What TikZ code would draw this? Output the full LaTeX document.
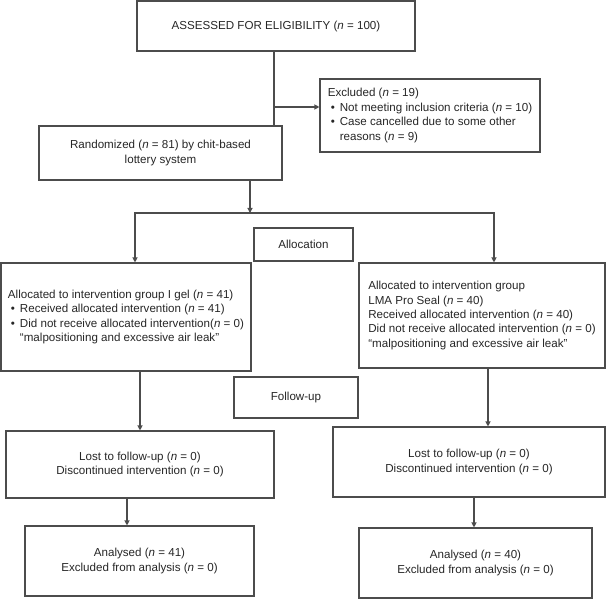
\documentclass[tikz,border=0pt]{standalone}
\usepackage{fontspec}
\setmainfont{Liberation Sans}
\usepackage{tikz}
\usetikzlibrary{arrows.meta,positioning}
\newcommand{\nn}{\textit{n}}
\newcommand{\itm}{\hspace*{3pt}\makebox[9pt][l]{\textbullet}}
\newcommand{\ind}{\hspace*{12pt}}

\begin{document}
\begin{tikzpicture}[
    x=1pt,y=-1pt,->,>={Triangle[length=5pt,width=5pt]},
    color=black!70,line width=1.1pt,
    block/.style={draw,rectangle,inner ysep=2pt,text=black!85,
      font=\fontsize{11.6}{14.4}\selectfont},
    ctr/.style={block,align=center},
    lft/.style={block,align=left}
  ]
  \useasboundingbox (0,0) rectangle (606,599);
  \node[ctr,minimum width=278,minimum height=50] (assess) at (276,26)
    {ASSESSED FOR ELIGIBILITY (\nn{} = 100)};
  \node[lft,minimum width=220,minimum height=73,inner xsep=4pt] (excl) at (430,115.5)
    {Excluded (\nn{} = 19)\\
     \itm Not meeting inclusion criteria (\nn{} = 10)\\
     \itm Case cancelled due to some other\\
     \ind reasons (\nn{} = 9)};
  \node[ctr,minimum width=243,minimum height=54] (rand) at (160.5,153)
    {Randomized (\nn{} = 81) by chit-based\\lottery system};
  \node[ctr,minimum width=99,minimum height=33] (alloc) at (303.5,244.5) {Allocation};
  \node[lft,minimum width=250,minimum height=108,inner xsep=4pt] (igel) at (126,317)
    {Allocated to intervention group I gel (\nn{} = 41)\\
     \itm Received allocated intervention (\nn{} = 41)\\
     \itm Did not receive allocated intervention(\nn{} = 0)\\
     \ind “malpositioning and excessive air leak”};
  \node[lft,minimum width=246,minimum height=105,inner xsep=4pt] (proseal) at (482,315.5)
    {Allocated to intervention group\\
     LMA Pro Seal (\nn{} = 40)\\
     Received allocated intervention (\nn{} = 40)\\
     Did not receive allocated intervention (\nn{} = 0)\\
     “malpositioning and excessive air leak”};
  \node[ctr,minimum width=124,minimum height=41] (follow) at (296,397.5) {Follow-up};
  \node[ctr,minimum width=268,minimum height=67] (lostI) at (140,464.5)
    {Lost to follow-up (\nn{} = 0)\\Discontinued intervention (\nn{} = 0)};
  \node[ctr,minimum width=272,minimum height=70] (lostP) at (469,462)
    {Lost to follow-up (\nn{} = 0)\\Discontinued intervention (\nn{} = 0)};
  \node[ctr,minimum width=229,minimum height=70] (anaI) at (139.5,561)
    {Analysed (\nn{} = 41)\\Excluded from analysis (\nn{} = 0)};
  \node[ctr,minimum width=233,minimum height=70] (anaP) at (475.5,563)
    {Analysed (\nn{} = 40)\\Excluded from analysis (\nn{} = 0)};

  \coordinate (split) at (274,107);
  \coordinate (fork) at (250,213);
  \draw[-] ([xshift=-2pt]assess.south) -- ([xshift=-2pt]assess.south |- rand.north);
  \draw (split) -- (split -| excl.west);
  \draw (fork |- rand.south) -- (fork);
  \draw (fork) -| ([xshift=9pt]igel.north);
  \draw (fork) -| ([xshift=12pt]proseal.north);
  \draw (lostI.north |- igel.south) -- (lostI.north);
  \draw ([xshift=6pt]proseal.south) -- ([xshift=6pt]proseal.south |- lostP.north);
  \draw ([xshift=-13pt]lostI.south) -- ([xshift=-13pt]lostI.south |- anaI.north);
  \draw ([xshift=5pt]lostP.south) -- ([xshift=5pt]lostP.south |- anaP.north);
\end{tikzpicture}
\end{document}
